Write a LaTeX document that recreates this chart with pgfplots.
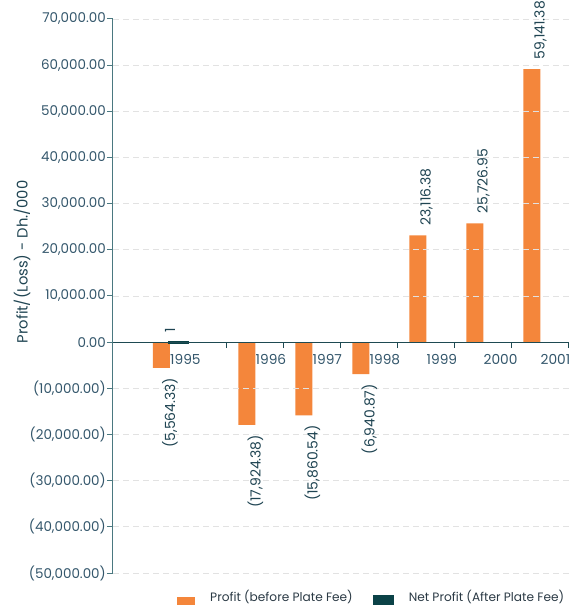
\documentclass[border=0pt]{standalone}
\usepackage{fontspec}
\setmainfont{Poppins}
\usepackage{pgfplots}
\pgfplotsset{compat=1.18}

\definecolor{profit}{HTML}{F4863B}
\definecolor{netprofit}{HTML}{0B4247}
\definecolor{yaxis}{HTML}{4A7880}
\definecolor{zeroline}{HTML}{1E4A52}
\definecolor{ticktext}{HTML}{33566B}
\definecolor{gridc}{HTML}{E2E2E2}
\definecolor{labeltext}{HTML}{1F4452}
\definecolor{legendtext}{HTML}{2B3A45}

\tikzset{
  value label/.style={rotate=90, anchor=#1, inner sep=2bp, outer sep=8bp,
    font=\fontsize{14}{14}\selectfont, text=labeltext},
}
\pgfplotsset{
  sq legend/.style={legend image code/.code={\fill[##1] (0bp,-18bp) rectangle (18bp,0bp);}},
}

\begin{document}
\begin{tikzpicture}
\begin{axis}[
  at={(0,0)}, anchor=south west,
  scale only axis, width=456bp, height=554bp,
  xmin=0, xmax=8, ymin=-50000, ymax=70000,
  axis x line=middle, axis y line=left,
  axis line style={-},
  x axis line style={zeroline, line width=1bp},
  y axis line style={yaxis, line width=1bp},
  axis on top,
  tick align=outside, major tick length=6bp, minor tick length=6bp,
  % y axis: signed figures, losses in parentheses
  scaled y ticks=false,
  ytick={-50000,-40000,-30000,-20000,-10000,0,10000,20000,30000,40000,50000,60000,70000},
  yticklabels={{(50,000.00)},{(40,000.00)},{(30,000.00)},{(20,000.00)},{(10,000.00)},{0.00},{10,000.00},{20,000.00},{30,000.00},{40,000.00},{50,000.00},{60,000.00},{70,000.00}},
  yticklabel style={font=\fontsize{13.5}{13.5}\selectfont, text=ticktext, inner sep=1bp},
  major y tick style={yaxis, line width=1bp},
  ymajorgrids,
  grid style={gridc, dash pattern=on 6bp off 4bp, line width=0.8bp},
  % x axis: year names beside the bars, marks between the categories
  xtick={1,2.5,3.5,4.5,5.5,6.5,7.5},
  xticklabels={1995,1996,1997,1998,1999,2000,2001},
  major x tick style={draw=none},
  minor xtick={2,3,4,5,6,7,8},
  minor x tick style={draw=zeroline, line width=1bp},
  xticklabel style={anchor=north west, inner sep=0pt, yshift=-6bp,
    font=\fontsize{13.8}{13.8}\selectfont, text=ticktext},
  ylabel={Profit/(Loss) - Dh./000},
  ylabel style={at={(-0.1996,0.5614)}, anchor=center,
    font=\fontsize{14.8}{14.8}\selectfont, text=labeltext},
  legend style={at={(0.1404,-0.0307)}, anchor=north west, draw=none, fill=none,
    inner sep=0pt, font=\fontsize{12.2}{14}\selectfont, text=legendtext,
    nodes={inner sep=0pt},
    /tikz/every odd column/.append style={column sep=15bp},
    /tikz/every even column/.append style={column sep=20bp}},
  legend columns=2,
]

% Profit before plate fee: gains
\addplot[ybar, sq legend, bar width=0.3, bar shift=-0.15, fill=profit, draw=none,
  nodes near coords, point meta=explicit symbolic,
  every node near coord/.append style={value label=west}]
  table[meta=label] {
x   y         label
5.5 23116.38  23,116.38
6.5 25726.95  25,726.95
7.5 59141.38  59,141.38
};
\addlegendentry{Profit (before Plate Fee)}

% Profit before plate fee: losses
\addplot[ybar, forget plot, bar width=0.3, bar shift=-0.15, fill=profit, draw=none,
  nodes near coords, point meta=explicit symbolic,
  every node near coord/.append style={value label=east}]
  table[meta=label] {
x   y          label
1   -5564.33   (5,564.33)
2.5 -17924.38  (17,924.38)
3.5 -15860.54  (15,860.54)
4.5 -6940.87   (6,940.87)
};

% Net profit after plate fee
\addplot[ybar, sq legend, bar width=0.3, bar shift=0.15, fill=netprofit, draw=netprofit, line width=3bp,
  nodes near coords, point meta=explicit symbolic,
  every node near coord/.append style={value label=west}]
  table[meta=label] {
x   y  label
1   1  1
};
\addlegendentry{Net Profit (After Plate Fee)}

\end{axis}
\pgfresetboundingbox
\useasboundingbox (-113bp,-32bp) rectangle (458bp,573bp);
\end{tikzpicture}
\end{document}
